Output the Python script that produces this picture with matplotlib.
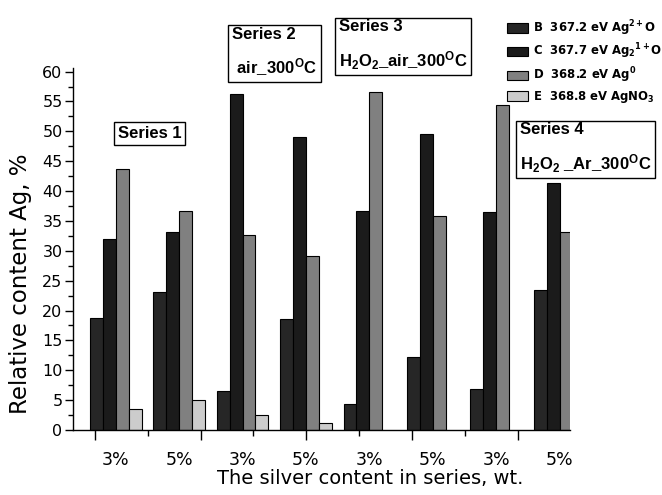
import numpy as np
import matplotlib
matplotlib.use("Agg")
import matplotlib.pyplot as plt
from matplotlib.patches import Patch

plt.rcParams["font.family"] = ["DejaVu Sans"]
plt.rcParams["mathtext.default"] = "regular"

# Data
groups = ["3%", "5%", "3%", "5%", "3%", "5%", "3%", "5%"]
b_vals = [18.7, 23.1, 6.5, 18.6, 4.4, 12.3, 6.9, 23.4]
c_vals = [31.9, 33.2, 56.2, 49.0, 36.7, 49.6, 36.5, 41.3]
d_vals = [43.7, 36.7, 32.7, 29.1, 56.6, 35.9, 54.4, 33.1]
e_vals = [3.5, 5.0, 2.5, 1.1, np.nan, np.nan, np.nan, np.nan]

series_names = [r"B  367.2 eV Ag$^{2+}$O",
                r"C  367.7 eV Ag$_2{}^{1+}$O",
                r"D  368.2 eV Ag$^0$",
                r"E  368.8 eV AgNO$_3$"]
colors = ["#262626", "#1b1b1b", "#808080", "#cccccc"]

box_texts = ["Series 1",
             "Series 2\n air_300$^O$C",
             "Series 3\nH$_2$O$_2$_air_300$^O$C",
             "Series 4\nH$_2$O$_2$ _Ar_300$^O$C"]

W, H = 662, 495
fig = plt.figure(figsize=(W / 100, H / 100), dpi=100)
ax = fig.add_axes([73 / W, 1 - 430 / H, (570 - 73) / W, (430 - 68) / H])

x = np.arange(len(groups))
w = 0.2035
for k, vals in enumerate([b_vals, c_vals, d_vals, e_vals]):
    ax.bar(x + (k - 1.5) * w, vals, width=w, color=colors[k],
           edgecolor="black", linewidth=0.8)

ax.set_xlim(-0.675, 7.164)
ax.set_ylim(0, 60.6)

for s in ["top", "right"]:
    ax.spines[s].set_visible(False)
for s in ["left", "bottom"]:
    ax.spines[s].set_linewidth(1.0)

ax.set_yticks(np.arange(0, 61, 5))
ax.set_yticks(np.arange(0, 61, 2.5), minor=True)
ax.tick_params(axis="y", which="major", length=6, width=1, pad=1.5, labelsize=11.5)
ax.tick_params(axis="y", which="minor", length=3.5, width=1)

# group labels on the main axis, tick marks drawn on a secondary axis
ax.set_xticks(x, groups)
ax.tick_params(axis="x", which="major", length=0, pad=15, labelsize=12.5)
ticks = -0.33 + np.arange(10) * 5 / 6
sec = ax.secondary_xaxis("bottom")
sec.spines["bottom"].set_visible(False)
sec.set_xticks(ticks[::2], [""] * 5)
sec.set_xticks(ticks[1::2], minor=True)
sec.tick_params(which="major", length=7, width=1)
sec.tick_params(which="minor", length=4, width=1)

ax.set_xlabel("The silver content in series, wt.", fontsize=14)
ax.xaxis.set_label_coords(0.598, -0.108)
ax.set_ylabel("Relative content Ag, %", fontsize=16.5)
ax.yaxis.set_label_coords(-0.082, 0.405)

handles = [Patch(facecolor=c, edgecolor="black", linewidth=0.8) for c in colors]
fig.legend(handles, series_names, loc="upper left",
           bbox_to_anchor=(507 / W, 1 - 18 / H), frameon=False,
           prop={"weight": "bold", "size": 8.4}, handlelength=1.8,
           handleheight=0.85, handletextpad=0.4, labelspacing=0.35,
           borderpad=0, borderaxespad=0)

# annotation boxes: left x, center y (pixels)
box_pos = [(118, 133.5), (232, 52.5), (339, 45.5), (520, 148.5)]
for txt, (bx, by) in zip(box_texts, box_pos):
    fig.text(bx / W, 1 - by / H, txt, ha="left", va="center",
             family="Liberation Sans", weight="bold", fontsize=12,
             linespacing=1.85,
             bbox=dict(boxstyle="square,pad=0.22", facecolor="white",
                       edgecolor="black", linewidth=1))

fig.savefig("out.png", dpi=100)
